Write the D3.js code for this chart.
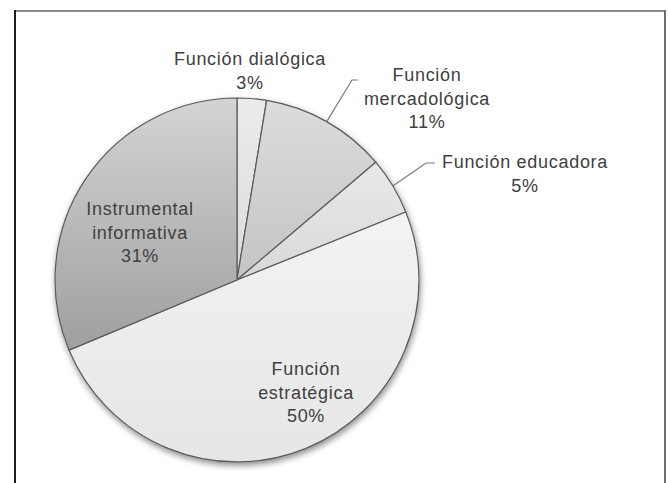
<!DOCTYPE html>
<html>
<head>
<meta charset="utf-8">
<script src="https://cdn.jsdelivr.net/npm/d3@7"></script>
<style>
  body { margin: 0; background: #fff; }
  svg { display: block; }
  .lbl { font-family: "Liberation Sans", Arial, sans-serif; font-size: 18px; fill: #404040; letter-spacing: 0.7px; }
</style>
</head>
<body>
<div id="chart"></div>
<script>
// data
var categories = ["Función dialógica", "Función mercadológica", "Función educadora", "Función estratégica", "Instrumental informativa"];
var values = [2.6, 11.2, 5.1, 49.8, 31.3];
var labelLines = [["Función dialógica"], ["Función", "mercadológica"], ["Función educadora"], ["Función", "estratégica"], ["Instrumental", "informativa"]];

// look
var gradTop = ["#ececec", "#dcdcdc", "#e9e9e9", "#f3f3f3", "#d4d4d4"];
var gradBottom = ["#dadada", "#c4c4c4", "#d8d8d8", "#e6e6e6", "#9f9f9f"];

// label layout, offsets from the pie center (first baseline)
var labelOffset = [[13, -215], [190, -199], [288, -112], [69, 95], [-97, -65]];
// leader elbows (offset from center), null = no leader
var leaderElbow = [null, [[115, -200], [121, -200]], [[189, -117], [198, -117]], null, null];

var svgWidth = 668, svgHeight = 483;
var cx = 237, cy = 280, radius = 182;
var lineH = 23.5;

var svg = d3.select("#chart").append("svg")
  .attr("width", svgWidth)
  .attr("height", svgHeight);

var defs = svg.append("defs");

categories.forEach(function(c, i) {
  var g = defs.append("linearGradient")
    .attr("id", "grad" + i)
    .attr("x1", 0).attr("y1", 0).attr("x2", 0).attr("y2", 1);
  g.append("stop").attr("offset", "0%").attr("stop-color", gradTop[i]);
  g.append("stop").attr("offset", "100%").attr("stop-color", gradBottom[i]);
});

var shadow = defs.append("filter").attr("id", "shadow")
  .attr("x", "-10%").attr("y", "-10%").attr("width", "120%").attr("height", "120%");
shadow.append("feGaussianBlur").attr("in", "SourceAlpha").attr("stdDeviation", 3);
shadow.append("feOffset").attr("dx", 1).attr("dy", 3).attr("result", "blur");
shadow.append("feComponentTransfer").append("feFuncA").attr("type", "linear").attr("slope", 0.45);
var merge = shadow.append("feMerge");
merge.append("feMergeNode");
merge.append("feMergeNode").attr("in", "SourceGraphic");

// frame
svg.append("line").attr("x1", 15).attr("y1", 11).attr("x2", 665).attr("y2", 11)
  .attr("stroke", "#8a8a8a").attr("stroke-width", 2);
svg.append("line").attr("x1", 665).attr("y1", 10).attr("x2", 665).attr("y2", 483)
  .attr("stroke", "#6f6f6f").attr("stroke-width", 2);
svg.append("line").attr("x1", 15).attr("y1", 10).attr("x2", 15).attr("y2", 483)
  .attr("stroke", "#1e1e1e").attr("stroke-width", 2);

var pie = d3.pie().sort(null).value(function(d) { return d; });
var arcs = pie(values);
var arc = d3.arc().innerRadius(0).outerRadius(radius);

var g = svg.append("g").attr("transform", "translate(" + cx + "," + cy + ")");

g.append("g").attr("filter", "url(#shadow)")
  .selectAll("path")
  .data(arcs)
  .enter()
  .append("path")
  .attr("d", arc)
  .attr("fill", function(d, i) { return "url(#grad" + i + ")"; })
  .attr("stroke", "#5a5a5a")
  .attr("stroke-width", 1.2)
  .attr("stroke-linejoin", "round");

// leaders
arcs.forEach(function(d, i) {
  if (!leaderElbow[i]) return;
  var mid = (d.startAngle + d.endAngle) / 2;
  var p0 = [Math.sin(mid) * radius, -Math.cos(mid) * radius];
  var pts = [p0].concat(leaderElbow[i]);
  g.append("path")
    .attr("d", d3.line()(pts))
    .attr("fill", "none")
    .attr("stroke", "#7a7a7a")
    .attr("stroke-width", 1.2);
});

// labels
arcs.forEach(function(d, i) {
  var lines = labelLines[i].concat([Math.round(values[i]) + "%"]);
  var t = g.append("text")
    .attr("class", "lbl")
    .attr("text-anchor", "middle")
    .attr("x", labelOffset[i][0])
    .attr("y", labelOffset[i][1]);
  lines.forEach(function(s, k) {
    t.append("tspan")
      .attr("x", labelOffset[i][0])
      .attr("y", labelOffset[i][1] + k * lineH)
      .text(s);
  });
});
</script>
</body>
</html>
